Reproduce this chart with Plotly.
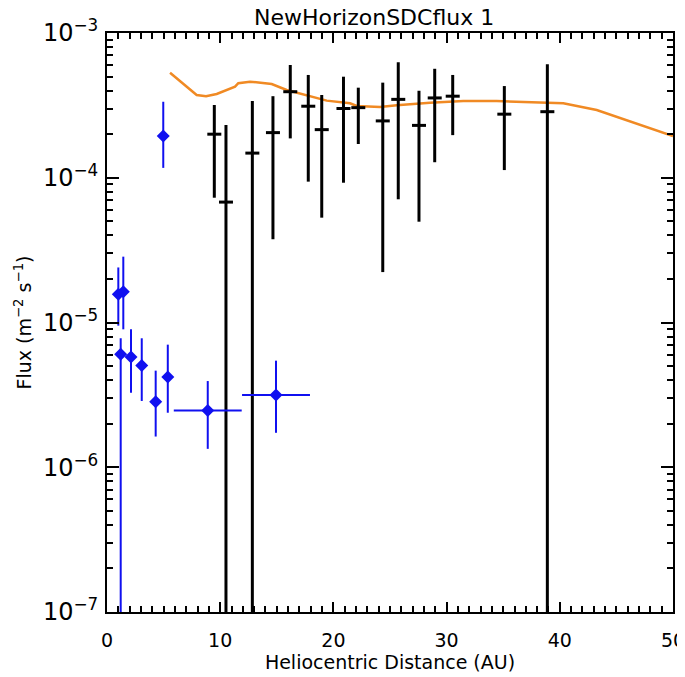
import plotly.graph_objects as go

# New Horizons SDC flux (black): distance (AU), flux, upper and lower error bounds
sdc_x = [9.48, 10.51, 12.84, 14.66, 16.19, 17.78, 18.97, 20.89, 22.20, 24.36,
         25.73, 27.56, 28.95, 30.54, 35.10, 38.90]
sdc_y = [2.00e-4, 6.79e-5, 1.48e-4, 2.05e-4, 3.93e-4, 3.12e-4, 2.15e-4, 3.01e-4,
         3.05e-4, 2.47e-4, 3.48e-4, 2.30e-4, 3.56e-4, 3.66e-4, 2.75e-4, 2.86e-4]
sdc_hi = [3.18e-4, 2.31e-4, 3.39e-4, 3.66e-4, 6.01e-4, 5.13e-4, 3.73e-4, 4.99e-4,
          4.19e-4, 4.54e-4, 6.28e-4, 3.99e-4, 5.66e-4, 5.13e-4, 4.30e-4, 6.08e-4]
sdc_lo = [7.28e-5, 1e-9, 1e-9, 3.76e-5, 1.87e-4, 9.40e-5, 5.30e-5, 9.24e-5,
          1.71e-4, 2.23e-5, 7.10e-5, 4.97e-5, 1.28e-4, 1.97e-4, 1.13e-4, 1e-9]

# Other measurements (blue)
oth_x = [1.00, 1.44, 1.21, 2.12, 3.07, 4.30, 5.37, 8.90, 14.93, 4.97]
oth_y = [1.57e-5, 1.63e-5, 6.03e-6, 5.78e-6, 5.04e-6, 2.84e-6, 4.21e-6, 2.47e-6,
         3.16e-6, 1.94e-4]
oth_hi = [2.40e-5, 2.85e-5, 7.78e-6, 8.97e-6, 7.78e-6, 4.65e-6, 7.03e-6, 3.94e-6,
          5.45e-6, 3.35e-4]
oth_lo = [9.51e-6, 8.97e-6, 1e-9, 3.27e-6, 2.87e-6, 1.63e-6, 2.38e-6, 1.34e-6,
          1.73e-6, 1.17e-4]
oth_xerr = [0, 0, 0, 0, 0, 0, 0, 3.0, 3.0, 0]

# Model curve (orange)
mod_x = [5.57, 7.92, 8.75, 9.69, 11.31, 11.60, 12.63, 14.55, 15.87, 17.64, 19.41,
         21.47, 22.06, 24.12, 25.59, 28.53, 31.47, 34.43, 37.37, 40.31, 43.26,
         46.20, 50.0]
mod_y = [5.32e-4, 3.73e-4, 3.66e-4, 3.79e-4, 4.26e-4, 4.50e-4, 4.61e-4, 4.44e-4,
         4.04e-4, 3.69e-4, 3.41e-4, 3.27e-4, 3.13e-4, 3.08e-4, 3.17e-4, 3.30e-4,
         3.39e-4, 3.39e-4, 3.32e-4, 3.27e-4, 2.94e-4, 2.44e-4, 1.94e-4]

x_tickvals = [0, 10, 20, 30, 40, 50]
y_tickvals = [1e-7, 1e-6, 1e-5, 1e-4, 1e-3]
y_ticktext = ["10<sup>−7</sup>", "10<sup>−6</sup>", "10<sup>−5</sup>",
              "10<sup>−4</sup>", "10<sup>−3</sup>"]
y_minor = [m * 10 ** e for e in range(-7, -3) for m in range(2, 10)]

FONT = "DejaVu Sans"
BLUE = "#1010f0"

fig = go.Figure()

fig.add_trace(go.Scatter(
    x=mod_x, y=mod_y, mode="lines", line=dict(color="#f08a24", width=2.5),
    hoverinfo="skip"))

fig.add_trace(go.Scatter(
    x=sdc_x, y=sdc_y, mode="markers",
    marker=dict(symbol="line-ew", size=10, line=dict(color="black", width=3)),
    error_y=dict(type="data", symmetric=False,
                 array=[h - v for h, v in zip(sdc_hi, sdc_y)],
                 arrayminus=[v - l for v, l in zip(sdc_y, sdc_lo)],
                 color="black", thickness=3, width=0)))

fig.add_trace(go.Scatter(
    x=oth_x, y=oth_y, mode="markers",
    marker=dict(symbol="diamond", size=10, color=BLUE),
    error_y=dict(type="data", symmetric=False,
                 array=[h - v for h, v in zip(oth_hi, oth_y)],
                 arrayminus=[v - l for v, l in zip(oth_y, oth_lo)],
                 color=BLUE, thickness=2, width=0),
    error_x=dict(type="data", array=oth_xerr, color=BLUE, thickness=2, width=0)))

axis_common = dict(showline=True, linecolor="black", linewidth=2, mirror="ticks",
                   ticks="inside", tickcolor="black", tickwidth=2,
                   showgrid=False, zeroline=False, automargin=False)

fig.update_xaxes(range=[0, 50], tickvals=x_tickvals, ticklen=10,
                 tickfont=dict(family=FONT, size=19, color="black"),
                 ticklabelstandoff=10,
                 minor=dict(ticks="inside", ticklen=6, dtick=1, tickcolor="black",
                            tickwidth=2, showgrid=False),
                 title=dict(text="Heliocentric Distance (AU)",
                            font=dict(family=FONT, size=19, color="black"), standoff=6),
                 **axis_common)
fig.update_yaxes(type="log", range=[-7, -3], tickvals=y_tickvals, ticktext=y_ticktext,
                 ticklen=12,
                 tickfont=dict(family=FONT, size=24, color="black"),
                 ticklabelstandoff=2,
                 minor=dict(ticks="inside", ticklen=6, tickvals=y_minor, tickcolor="black",
                            tickwidth=2, showgrid=False),
                 title=dict(text="Flux (m<sup>−2</sup> s<sup>−1</sup>)",
                            font=dict(family=FONT, size=19, color="black"), standoff=6),
                 **axis_common)

# the page body adds an 8px offset, so margins are shifted to place the plot area
fig.update_layout(
    width=685, height=677,
    margin=dict(l=99, r=20, t=25, b=73),
    plot_bgcolor="white", paper_bgcolor="white",
    showlegend=False,
    title=dict(text="NewHorizonSDCflux 1", x=0.472, xref="paper", xanchor="center",
               y=0.997, yanchor="top", pad=dict(t=0),
               font=dict(family=FONT, size=22, color="black")),
)

fig.write_html("out.html", config={"displayModeBar": False})
